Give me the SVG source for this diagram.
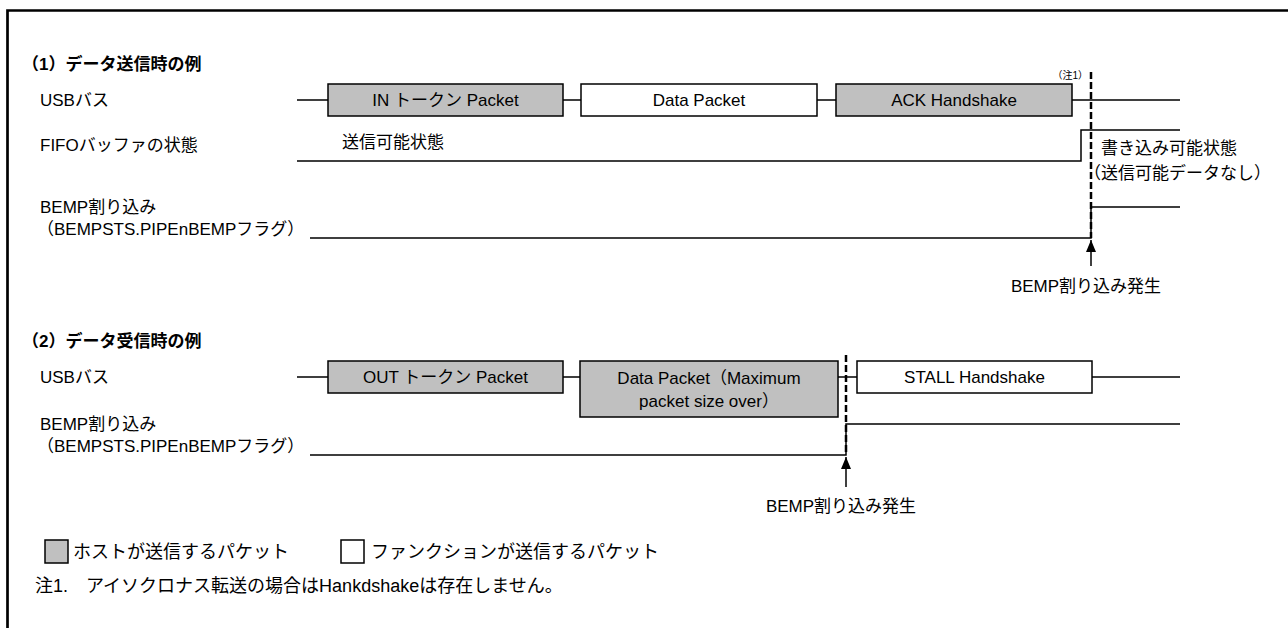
<svg xmlns="http://www.w3.org/2000/svg" width="1288" height="628" viewBox="0 0 1288 628">
<style>
text{font-family:"Liberation Sans","Noto Sans CJK JP",sans-serif;fill:#000;font-size:17px}
.t{font-weight:bold}
.c{text-anchor:middle}
.sm{font-size:10px}
.lg{font-size:18px}
.host{fill:#c0c0c0;stroke:#000;stroke-width:1.5}
.func{fill:#fff;stroke:#000;stroke-width:1.5}
.ln{stroke:#000;stroke-width:1.5;fill:none}
.dash{stroke:#000;stroke-width:2.5;stroke-dasharray:7,3;fill:none}
</style>
<defs>
<marker id="ah" viewBox="0 0 12 10" markerWidth="12" markerHeight="10" refX="12" refY="5" orient="auto" markerUnits="userSpaceOnUse">
<path d="M0,0 L12,5 L0,10 Z" fill="#000"/>
</marker>
</defs>
<rect width="1288" height="628" fill="#fff"/>
<path d="M7.5,628 V10.5 H1288" stroke="#000" stroke-width="2.7" fill="none"/>

<g id="section1">
<text class="t" x="22" y="70">（1）データ送信時の例</text>
<text x="40" y="106">USBバス</text>
<text x="40" y="151">FIFOバッファの状態</text>
<text x="40" y="213">BEMP割り込み</text>
<text x="37" y="235">（BEMPSTS.PIPEnBEMPフラグ）</text>
</g>
<g id="in-token"><rect class="host" x="328" y="84" width="235" height="32"/><text class="c" x="445.5" y="106">IN トークン Packet</text></g>
<g id="data-packet1"><rect class="func" x="581" y="84" width="236" height="32"/><text class="c" x="699" y="106">Data Packet</text></g>
<g id="ack"><rect class="host" x="836" y="84" width="236" height="32"/><text class="c" x="954" y="106">ACK Handshake</text></g>
<g id="fifo-labels">
<text x="342" y="148">送信可能状態</text>
<text x="1101" y="154">書き込み可能状態</text>
<text x="1084" y="179">（送信可能データなし）</text>
<text class="sm" x="1088" y="79" text-anchor="end">（注1）</text>
<text class="c" x="1086" y="292">BEMP割り込み発生</text>
</g>

<g id="section2">
<text class="t" x="22" y="347">（2）データ受信時の例</text>
<text x="40" y="383">USBバス</text>
<text x="40" y="430">BEMP割り込み</text>
<text x="37" y="452">（BEMPSTS.PIPEnBEMPフラグ）</text>
</g>
<g id="out-token"><rect class="host" x="328" y="361" width="235" height="32"/><text class="c" x="445.5" y="383">OUT トークン Packet</text></g>
<g id="data-packet2"><rect class="host" x="580" y="361" width="258" height="56"/><text class="c" x="709" y="384">Data Packet（Maximum</text><text class="c" x="709" y="407">packet size over）</text></g>
<g id="stall"><rect class="func" x="857" y="361" width="235" height="32"/><text class="c" x="974.5" y="383">STALL Handshake</text></g>
<text class="c" x="841" y="512">BEMP割り込み発生</text>

<g id="legend">
<rect class="host" x="45" y="540" width="23" height="23"/>
<text class="lg" x="73" y="558">ホストが送信するパケット</text>
<rect class="func" x="341" y="540" width="23" height="23"/>
<text class="lg" x="371" y="558">ファンクションが送信するパケット</text>
<text class="lg" x="35" y="592">注1.　アイソクロナス転送の場合はHankdshakeは存在しません。</text>
</g>

<g id="connectors">
<path class="ln" d="M297,100 H328 M563,100 H581 M817,100 H836 M1072,100 H1180"/>
<path class="ln" d="M297,161 H1081 V130 H1180"/>
<path class="ln" d="M310,238 H1091 V207 H1180"/>
<path class="dash" d="M1091,72 V238"/>
<path class="ln" d="M1091,266 V240" marker-end="url(#ah)"/>
<path class="ln" d="M297,377 H328 M563,377 H580 M838,377 H857 M1092,377 H1180"/>
<path class="ln" d="M310,455 H846 V424 H1180"/>
<path class="dash" d="M846,355 V455"/>
<path class="ln" d="M846,487 V457" marker-end="url(#ah)"/>
</g>
</svg>
